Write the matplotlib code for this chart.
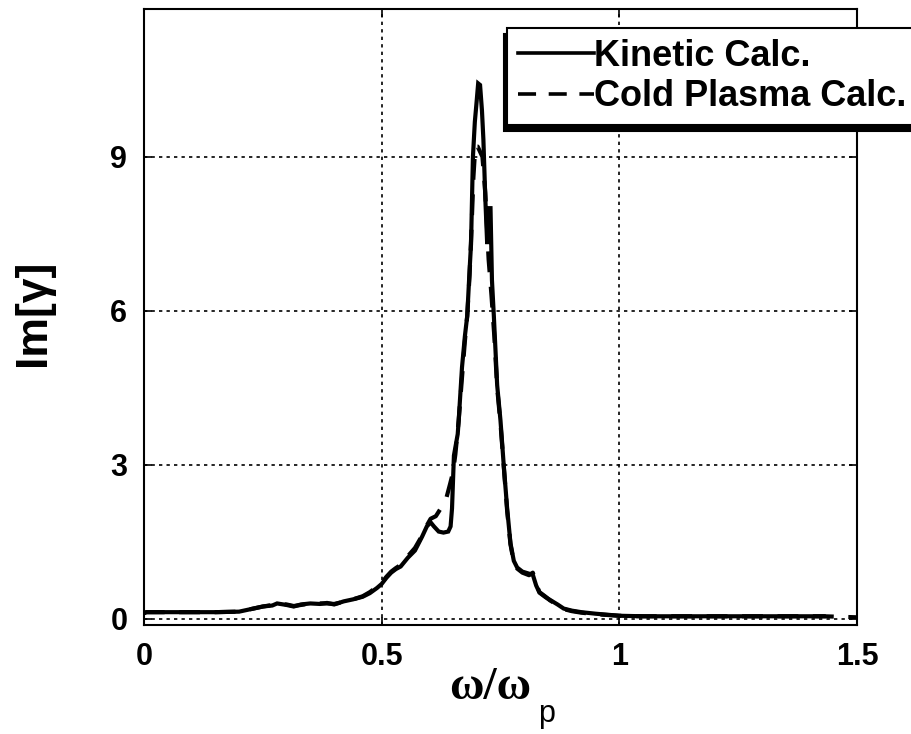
import matplotlib
matplotlib.use("Agg")
import matplotlib.pyplot as plt

# growth rate vs normalised frequency
kinetic_w = [0.000, 0.005, 0.05, 0.10, 0.15, 0.20, 0.22, 0.25, 0.27, 0.28,
             0.30, 0.315, 0.33, 0.35, 0.37, 0.385, 0.40, 0.42, 0.44, 0.46,
             0.475, 0.49, 0.50, 0.51, 0.52, 0.53, 0.54, 0.555, 0.57, 0.585,
             0.595, 0.603, 0.61, 0.62, 0.63, 0.64, 0.645, 0.648, 0.652, 0.66,
             0.662, 0.669, 0.675, 0.68, 0.685, 0.688, 0.692, 0.696, 0.700, 0.703,
             0.707, 0.711, 0.714, 0.718, 0.722, 0.725, 0.729, 0.732, 0.736, 0.743,
             0.75, 0.757, 0.764, 0.771, 0.778, 0.785, 0.796, 0.81, 0.818, 0.825,
             0.832, 0.845, 0.854, 0.87, 0.883, 0.90, 0.92, 0.95, 1.00, 1.05, 1.43]
kinetic_im = [0.11, 0.13, 0.13, 0.13, 0.13, 0.14, 0.18, 0.24, 0.26, 0.30,
              0.27, 0.24, 0.28, 0.30, 0.29, 0.31, 0.28, 0.34, 0.38, 0.43,
              0.50, 0.60, 0.68, 0.80, 0.90, 0.97, 1.02, 1.19, 1.33, 1.60,
              1.80, 1.88, 1.80, 1.70, 1.68, 1.70, 1.80, 2.15, 3.18, 3.60,
              3.86, 4.90, 5.50, 5.90, 6.80, 7.30, 9.00, 9.68, 10.10, 10.43,
              10.40, 9.90, 9.34, 8.20, 7.30, 8.00, 8.00, 6.60, 5.90, 4.55,
              3.86, 2.97, 2.15, 1.47, 1.13, 1.00, 0.92, 0.88, 0.86, 0.65,
              0.51, 0.42, 0.37, 0.28, 0.20, 0.16, 0.13, 0.10, 0.06, 0.05, 0.05]

cold_w = [0.000, 0.005, 0.05, 0.10, 0.15, 0.20, 0.22, 0.25, 0.27, 0.28,
          0.30, 0.315, 0.33, 0.35, 0.37, 0.385, 0.40, 0.42, 0.44, 0.46,
          0.475, 0.49, 0.50, 0.51, 0.52, 0.53, 0.54, 0.555, 0.57, 0.585,
          0.595, 0.603, 0.614, 0.629, 0.636, 0.644, 0.65, 0.655, 0.662, 0.669,
          0.675, 0.68, 0.685, 0.689, 0.693, 0.697, 0.702, 0.707, 0.712, 0.718,
          0.725, 0.731, 0.737, 0.743, 0.75, 0.757, 0.764, 0.771, 0.778, 0.785,
          0.796, 0.81, 0.818, 0.825, 0.832, 0.845, 0.854, 0.87, 0.883, 0.90,
          0.92, 0.95, 1.00, 1.05, 1.43, 1.50]
cold_im = [0.11, 0.13, 0.13, 0.13, 0.13, 0.14, 0.18, 0.24, 0.27, 0.29,
           0.28, 0.25, 0.27, 0.30, 0.30, 0.30, 0.29, 0.33, 0.38, 0.44,
           0.52, 0.62, 0.70, 0.82, 0.92, 0.99, 1.05, 1.22, 1.38, 1.62,
           1.82, 1.95, 2.00, 2.22, 2.35, 2.63, 2.85, 3.20, 3.86, 4.70,
           5.40, 5.90, 6.70, 7.60, 8.60, 9.20, 9.20, 9.10, 9.00, 8.30,
           7.00, 6.30, 5.50, 4.50, 3.80, 2.95, 2.10, 1.45, 1.10, 0.98,
           0.90, 0.85, 0.90, 0.68, 0.52, 0.43, 0.36, 0.27, 0.19, 0.15,
           0.12, 0.09, 0.06, 0.05, 0.05, 0.03]

xticks = [0, 0.5, 1, 1.5]
xticklabels = ["0", "0.5", "1", "1.5"]
yticks = [0, 3, 6, 9]
yticklabels = ["0", "3", "6", "9"]

plt.rcParams["font.family"] = ["Liberation Sans", "DejaVu Sans"]

W, H = 912, 734
fig = plt.figure(figsize=(W / 100, H / 100), dpi=100)
ax = fig.add_axes([144 / W, 1 - 625 / H, (857 - 144) / W, (625 - 9) / H])

ax.plot(kinetic_w, kinetic_im, color="black", lw=3.0, solid_joinstyle="miter",
        label="Kinetic Calc.", zorder=3)
ax.plot(cold_w, cold_im, color="black", lw=3.0, linestyle=(0, (5, 3.5)),
        label="Cold Plasma Calc.", zorder=4)

ax.set_xlim(0, 1.5)
ax.set_ylim(-0.12, 11.88)
ax.set_xticks(xticks)
ax.set_xticklabels(xticklabels)
ax.set_yticks(yticks)
ax.set_yticklabels(yticklabels)
ax.tick_params(direction="in", length=6, width=1.2, top=True, right=True,
               labelsize=22, pad=12)
for lab in ax.get_xticklabels() + ax.get_yticklabels():
    lab.set_fontweight("bold")
ax.grid(True, color="black", linestyle=(0, (2, 2.5)), linewidth=1.2)
for sp in ax.spines.values():
    sp.set_linewidth(1.5)

fig.text(34 / W, 1 - 313 / H, "Im[γ]", rotation=90, fontsize=32,
         fontweight="bold", ha="center", va="center")
fig.text(490 / W, 1 - 688 / H, "ω/ω", fontsize=34, fontweight="bold",
         family=["Liberation Serif", "DejaVu Serif"], ha="center", va="center")
fig.text(547 / W, 1 - 714 / H, "p", fontsize=22, ha="center", va="center")

leg = ax.legend(loc="upper left", bbox_to_anchor=(507 / W, 1 - 28 / H),
                bbox_transform=fig.transFigure,
                prop={"weight": "bold", "size": 26},
                handlelength=2.1, handletextpad=0.0, borderpad=0.3,
                labelspacing=0.15, borderaxespad=0, fancybox=False,
                shadow={"ox": -2, "oy": -4, "color": "black", "alpha": 1},
                framealpha=1)
leg.get_frame().set_edgecolor("black")
leg.get_frame().set_linewidth(1.5)
for line in leg.get_lines():
    line.set_linewidth(2.6)

fig.savefig("out.png", dpi=100)
